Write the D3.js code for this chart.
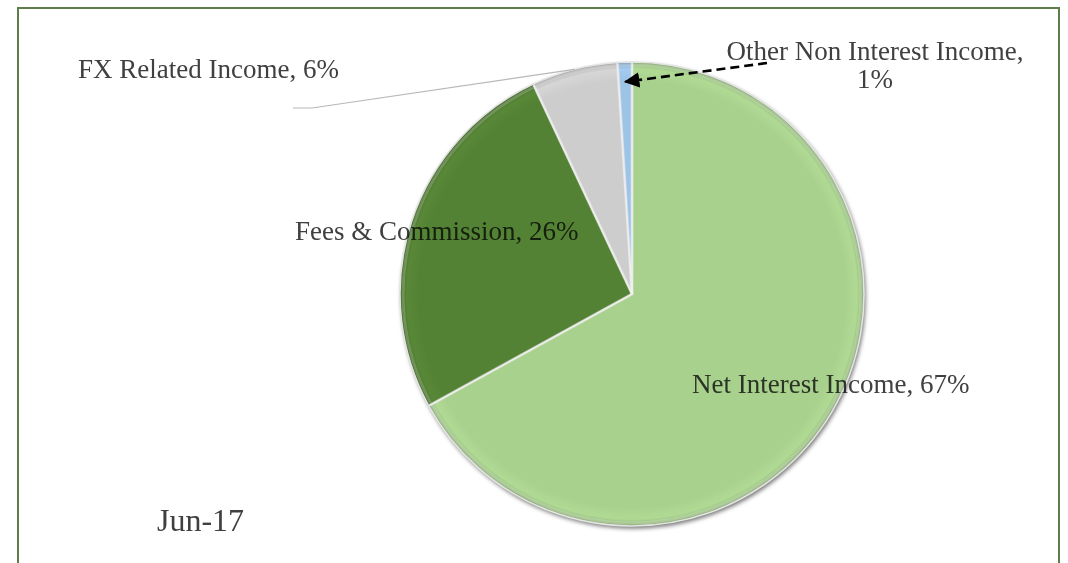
<!DOCTYPE html>
<html>
<head>
<meta charset="utf-8">
<script src="https://cdn.jsdelivr.net/npm/d3@7/dist/d3.min.js"></script>
<style>
  html, body { margin: 0; padding: 0; background: #fff; }
  svg { display: block; }
  .lbl { font-family: "Liberation Serif", "Times New Roman", serif; fill: #404040; mix-blend-mode: multiply; }
</style>
</head>
<body>
<svg id="chart" width="1068" height="563"></svg>
<script>
// Income mix, June 2017
const categories = ["Net Interest Income", "Fees & Commission", "FX Related Income", "Other Non Interest Income"];
const shares = [67, 26, 6, 1];
const sliceColors = ["#a9d18e", "#548235", "#cdcdcd", "#9dc3e6"];
const periodLabel = "Jun-17";

const W = 1068, H = 563;
const cx = 632, cy = 294, R = 232;

const svg = d3.select("#chart");
const defs = svg.append("defs");

// blur used for the shadow disc under the pie
defs.append("filter").attr("id", "blur")
  .attr("x", "-10%").attr("y", "-10%").attr("width", "120%").attr("height", "120%")
  .append("feGaussianBlur").attr("stdDeviation", 2);

// gentle radial shading per slice (in the pie group's local coordinates)
sliceColors.forEach((c, i) => {
  const g = defs.append("radialGradient").attr("id", "grad" + i)
    .attr("gradientUnits", "userSpaceOnUse")
    .attr("cx", 0).attr("cy", 0).attr("r", R);
  const base = d3.color(c);
  g.append("stop").attr("offset", "0%").attr("stop-color", base.formatHex());
  g.append("stop").attr("offset", "92%").attr("stop-color", base.formatHex());
  g.append("stop").attr("offset", "97%").attr("stop-color", base.brighter(0.12).formatHex());
  g.append("stop").attr("offset", "100%").attr("stop-color", base.darker(0.6).formatHex());
});

// frame around the chart area (open at the bottom edge of the view)
svg.append("rect")
  .attr("x", 18).attr("y", 8).attr("width", 1041).attr("height", 600)
  .attr("fill", "none").attr("stroke", "#5e7d4b").attr("stroke-width", 2);

const data = categories.map((name, i) => ({ name, value: shares[i], i }));
const pie = d3.pie().value(d => d.value).sort(null);
const arcs = pie(data);
const arc = d3.arc().innerRadius(0).outerRadius(R);

const gPie = svg.append("g").attr("transform", `translate(${cx},${cy})`);

// shadow disc
gPie.append("circle")
  .attr("cx", 1.5).attr("cy", 2.5).attr("r", R)
  .attr("fill", "#000").attr("fill-opacity", 0.55)
  .attr("filter", "url(#blur)");

gPie.selectAll("path.slice").data(arcs).join("path")
  .attr("class", "slice")
  .attr("d", arc)
  .attr("fill", d => `url(#grad${d.data.i})`)
  .attr("stroke", "#e3e3e3")
  .attr("stroke-width", 1.6)
  .attr("stroke-linejoin", "round");

// inner bevel highlight along slice edges
const bevel = d3.arc().innerRadius(0).outerRadius(R - 3);
gPie.selectAll("path.bevel").data(arcs).join("path")
  .attr("class", "bevel")
  .attr("d", bevel)
  .attr("fill", "none")
  .attr("stroke", "#ffffff")
  .attr("stroke-opacity", 0.2)
  .attr("stroke-width", 3);

// point on a slice at a given radius fraction
function slicePoint(d, rf) {
  const a = (d.startAngle + d.endAngle) / 2;
  return [cx + Math.sin(a) * R * rf, cy - Math.cos(a) * R * rf];
}

// leader line for FX Related Income
const fx = arcs[2];
const fxEnd = slicePoint(fx, 1.0);
svg.append("path")
  .attr("d", d3.line()([[293, 108], [312, 108], fxEnd]))
  .attr("fill", "none").attr("stroke", "#b8b8b8").attr("stroke-width", 1.2);

// dashed arrow for Other Non Interest Income
defs.append("marker").attr("id", "arrowHead")
  .attr("viewBox", "0 0 10 10").attr("refX", 9).attr("refY", 5)
  .attr("markerWidth", 6).attr("markerHeight", 6).attr("orient", "auto")
  .attr("markerUnits", "strokeWidth")
  .append("path").attr("d", "M0,0 L10,5 L0,10 Z").attr("fill", "#000");
const oth = arcs[3];
const othTip = slicePoint(oth, 0.915);
svg.append("path")
  .attr("d", d3.line()([[767, 63], othTip]))
  .attr("fill", "none").attr("stroke", "#000").attr("stroke-width", 2.6)
  .attr("stroke-dasharray", "9,5")
  .attr("marker-end", "url(#arrowHead)");

// data labels
const fmt = v => `${v}%`;
const labels = svg.append("g");
labels.append("text").attr("class", "lbl").attr("x", 78).attr("y", 78)
  .attr("font-size", 27).text(`${categories[2]}, ${fmt(shares[2])}`);
labels.append("text").attr("class", "lbl").attr("x", 295).attr("y", 240)
  .attr("font-size", 27).text(`${categories[1]}, ${fmt(shares[1])}`);
labels.append("text").attr("class", "lbl").attr("x", 692).attr("y", 393)
  .attr("font-size", 27).text(`${categories[0]}, ${fmt(shares[0])}`);
const ot = labels.append("text").attr("class", "lbl").attr("font-size", 27)
  .attr("text-anchor", "middle");
ot.append("tspan").attr("x", 875).attr("y", 60).text(`${categories[3]},`);
ot.append("tspan").attr("x", 875).attr("y", 88).text(fmt(shares[3]));

svg.append("text").attr("class", "lbl").attr("x", 157).attr("y", 531)
  .attr("font-size", 32).text(periodLabel);
</script>
</body>
</html>
